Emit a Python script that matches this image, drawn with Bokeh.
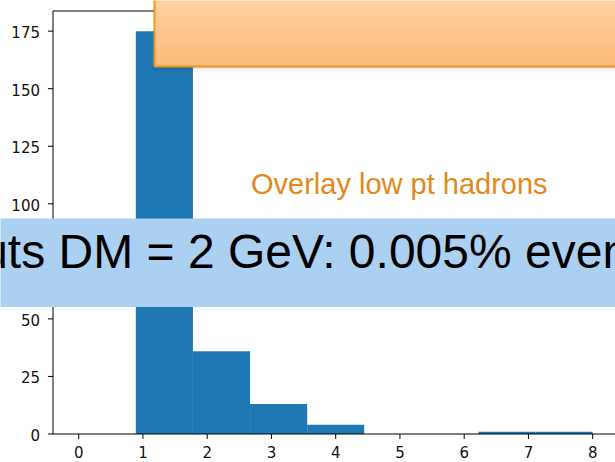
import numpy as np
from bokeh.plotting import figure
from bokeh.models import Range1d, Label
from bokeh.core.properties import value
from bokeh.embed import file_html
from bokeh.resources import INLINE

# Histogram: 9 equal bins over [0, 8]
bin_edges = [0.0, 0.889, 1.778, 2.667, 3.556, 4.444, 5.333, 6.222, 7.111, 8.0]
counts = [0, 175, 36, 13, 4, 0, 0, 1, 1]

x_ticks = [0, 1, 2, 3, 4, 5, 6, 7, 8]
x_tick_labels = [str(t) for t in x_ticks]
y_ticks = [0, 25, 50, 75, 100, 125, 150, 175]
y_tick_labels = [str(t) for t in y_ticks]

overlay_title = "Overlay low pt hadrons"
banner_text = "Cuts DM = 2 GeV: 0.005% events"

W, H = 615, 462
AX_LEFT, AX_BOTTOM = 52.5, 433.5   # canvas position of the axes corner
PX_X, PX_Y = 64.25, 2.302          # pixels per data unit
X_LIM = (-0.4, 8.4)                # axes limits (data span plus 5% margins)
Y_LIM = (0.0, 183.75)

# the frame covers the whole canvas; axes are drawn as glyphs so the
# callouts can run over the tick labels
x_start = X_LIM[0] - AX_LEFT / PX_X
y_start = Y_LIM[0] - (H - AX_BOTTOM) / PX_Y
p = figure(width=W, height=H, output_backend="svg", toolbar_location=None,
           x_range=Range1d(x_start, x_start + W / PX_X),
           y_range=Range1d(y_start, y_start + H / PX_Y),
           x_axis_location=None, y_axis_location=None,
           min_border=0)
p.outline_line_color = None
p.grid.visible = False
p.background_fill_color = "white"
p.border_fill_color = "white"


def cx(px):
    return X_LIM[0] + (px - AX_LEFT) / PX_X


def cy(py):
    return Y_LIM[0] + (AX_BOTTOM - py) / PX_Y


# bars
p.quad(left=bin_edges[:-1], right=bin_edges[1:], bottom=0, top=counts,
       fill_color="#1f77b4", line_color=None)

# spines: top, left, bottom
p.line(x=[X_LIM[1], X_LIM[0], X_LIM[0], X_LIM[1]],
       y=[Y_LIM[1], Y_LIM[1], Y_LIM[0], Y_LIM[0]],
       line_color="black", line_width=1)

tick_x = 5 / PX_X
tick_y = 5 / PX_Y

# y axis ticks and labels
p.segment(x0=[X_LIM[0]] * len(y_ticks), x1=[X_LIM[0] - tick_x] * len(y_ticks),
          y0=y_ticks, y1=y_ticks, line_color="black", line_width=1)
p.text(x=[X_LIM[0]] * len(y_ticks), y=y_ticks, text=y_tick_labels,
       x_offset=-13, y_offset=1, text_align="right", text_baseline="middle",
       text_font=value("DejaVu Sans"), text_font_size=value("15px"),
       text_color="#111111")

# x axis ticks and labels
p.segment(x0=x_ticks, x1=x_ticks, y0=[Y_LIM[0]] * len(x_ticks),
          y1=[Y_LIM[0] - tick_y] * len(x_ticks), line_color="black", line_width=1)
p.text(x=x_ticks, y=[Y_LIM[0]] * len(x_ticks), text=x_tick_labels,
       y_offset=18, text_align="center", text_baseline="middle",
       text_font=value("DejaVu Sans"), text_font_size=value("15px"),
       text_color="#111111")

# orange callout: soft shadow, vertical gradient fill, border
box_l, box_r, box_t, box_b = 154, 700, -12, 66
for i, a in enumerate([0.16, 0.11, 0.07, 0.045, 0.025, 0.012]):
    p.quad(left=cx(151 + i * 0.5), right=cx(box_r), top=cy(box_b + i),
           bottom=cy(box_b + i + 1), fill_color="black", fill_alpha=a, line_color=None)

top_rgb = np.array([254, 214, 171])
bot_rgb = np.array([253, 186, 120])
rows = 80
f = np.linspace(0, 1, rows)[:, None]      # row 0 sits at the bottom
rgb = bot_rgb * (1 - f) + top_rgb * f
img = np.zeros((rows, 1), dtype=np.uint32)
view = img.view(dtype=np.uint8).reshape((rows, 1, 4))
view[:, 0, 0] = rgb[:, 0].round()
view[:, 0, 1] = rgb[:, 1].round()
view[:, 0, 2] = rgb[:, 2].round()
view[:, 0, 3] = 255
p.image_rgba(image=[img], x=cx(box_l), y=cy(box_b), dw=cx(box_r) - cx(box_l),
             dh=cy(box_t) - cy(box_b))
p.quad(left=cx(box_l), right=cx(box_r), top=cy(box_t), bottom=cy(box_b),
       fill_color=None, line_color="#f29418", line_width=2)

# blue banner
p.quad(left=cx(-20), right=cx(box_r), top=cy(218), bottom=cy(306.5),
       fill_color="#abd0f2", line_color=None)

p.add_layout(Label(x=250.5, y=H - 194.5 + 11, x_units="screen", y_units="screen",
                   text=overlay_title, text_font="Liberation Sans",
                   text_font_size="29px", text_color="#e3881a",
                   text_baseline="alphabetic"))
p.add_layout(Label(x=-54, y=H - 269 + 18, x_units="screen", y_units="screen",
                   text=banner_text, text_font="Liberation Sans",
                   text_font_size="48px", text_color="black",
                   text_baseline="alphabetic"))

open("out.html", "w").write(file_html(p, INLINE))
